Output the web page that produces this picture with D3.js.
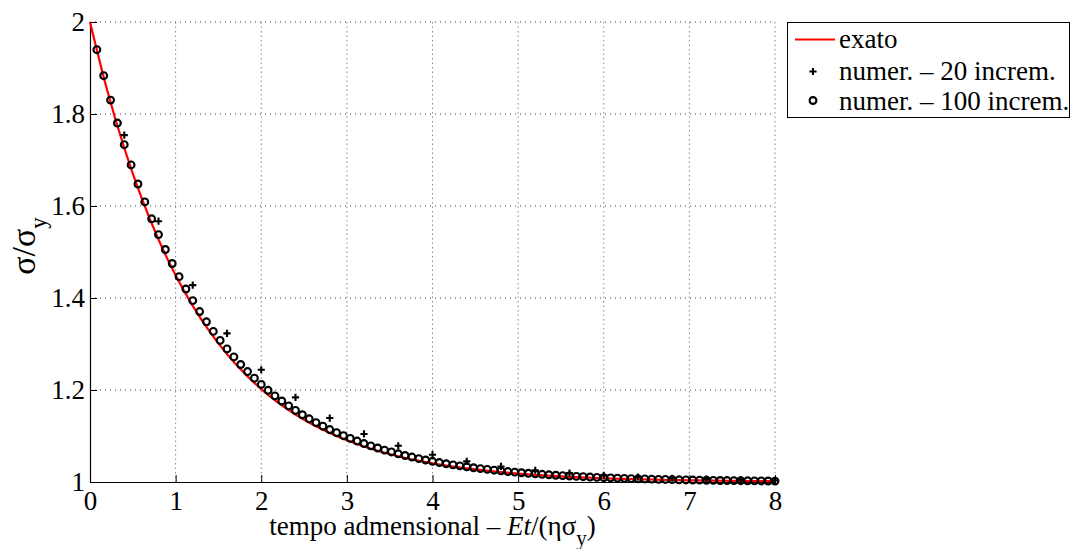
<!DOCTYPE html>
<html>
<head>
<meta charset="utf-8">
<script src="https://cdn.jsdelivr.net/npm/d3@7"></script>
<style>
  html, body { margin: 0; padding: 0; background: #fff; }
  svg { display: block; }
</style>
</head>
<body>
<svg id="chart" width="1072" height="549"></svg>
<script>
// ---- data ----
const xTicks = [0, 1, 2, 3, 4, 5, 6, 7, 8];
const xTickLabels = ["0", "1", "2", "3", "4", "5", "6", "7", "8"];
const yTicks = [1, 1.2, 1.4, 1.6, 1.8, 2];
const yTickLabels = ["1", "1.2", "1.4", "1.6", "1.8", "2"];

// exact solution
const exactT = [0, 0.2, 0.4, 0.6, 0.8, 1.0, 1.2, 1.4, 1.6, 1.8, 2.0, 2.2, 2.4, 2.6, 2.8, 3.0, 3.2, 3.4, 3.6, 3.8,
  4.0, 4.2, 4.4, 4.6, 4.8, 5.0, 5.2, 5.4, 5.6, 5.8, 6.0, 6.2, 6.4, 6.6, 6.8, 7.0, 7.2, 7.4, 7.6, 7.8, 8.0];
const exactY = [2.0000, 1.8521, 1.7261, 1.6188, 1.5273, 1.4493, 1.3829, 1.3263, 1.2780, 1.2369,
  1.2019, 1.1720, 1.1466, 1.1249, 1.1065, 1.0907, 1.0773, 1.0659, 1.0561, 1.0478,
  1.0408, 1.0347, 1.0296, 1.0252, 1.0215, 1.0183, 1.0156, 1.0133, 1.0113, 1.0097,
  1.0082, 1.0070, 1.0060, 1.0051, 1.0043, 1.0037, 1.0032, 1.0027, 1.0023, 1.0020, 1.0017];

// numerical, 20 increments
const inc20T = [0.4, 0.8, 1.2, 1.6, 2.0, 2.4, 2.8, 3.2, 3.6, 4.0, 4.4, 4.8, 5.2, 5.6, 6.0, 6.4, 6.8, 7.2, 7.6, 8.0];
const inc20Y = [1.754, 1.567, 1.428, 1.323, 1.244, 1.184, 1.139, 1.1045, 1.0788, 1.0594,
  1.0448, 1.0338, 1.0255, 1.0192, 1.0145, 1.0109, 1.0082, 1.0062, 1.0047, 1.0035];

// numerical, 100 increments
const inc100T = [0.08, 0.16, 0.24, 0.32, 0.40, 0.48, 0.56, 0.64, 0.72, 0.80,
  0.88, 0.96, 1.04, 1.12, 1.20, 1.28, 1.36, 1.44, 1.52, 1.60,
  1.68, 1.76, 1.84, 1.92, 2.00, 2.08, 2.16, 2.24, 2.32, 2.40,
  2.48, 2.56, 2.64, 2.72, 2.80, 2.88, 2.96, 3.04, 3.12, 3.20,
  3.28, 3.36, 3.44, 3.52, 3.60, 3.68, 3.76, 3.84, 3.92, 4.00,
  4.08, 4.16, 4.24, 4.32, 4.40, 4.48, 4.56, 4.64, 4.72, 4.80,
  4.88, 4.96, 5.04, 5.12, 5.20, 5.28, 5.36, 5.44, 5.52, 5.60,
  5.68, 5.76, 5.84, 5.92, 6.00, 6.08, 6.16, 6.24, 6.32, 6.40,
  6.48, 6.56, 6.64, 6.72, 6.80, 6.88, 6.96, 7.04, 7.12, 7.20,
  7.28, 7.36, 7.44, 7.52, 7.60, 7.68, 7.76, 7.84, 7.92, 8.00];
const inc100Y = [1.9398, 1.8833, 1.8302, 1.7803, 1.7333, 1.6892, 1.6478, 1.6088, 1.5722, 1.5378,
  1.5054, 1.4750, 1.4464, 1.4196, 1.3943, 1.3706, 1.3483, 1.3274, 1.3077, 1.2892,
  1.2718, 1.2554, 1.2401, 1.2256, 1.2121, 1.1993, 1.1873, 1.1761, 1.1655, 1.1555,
  1.1462, 1.1374, 1.1291, 1.1213, 1.1140, 1.1072, 1.1007, 1.0947, 1.0890, 1.0836,
  1.0786, 1.0739, 1.0694, 1.0653, 1.0613, 1.0576, 1.0542, 1.0509, 1.0478, 1.0450,
  1.0423, 1.0397, 1.0373, 1.0351, 1.0330, 1.0310, 1.0291, 1.0274, 1.0257, 1.0242,
  1.0227, 1.0214, 1.0201, 1.0189, 1.0177, 1.0167, 1.0157, 1.0147, 1.0138, 1.0130,
  1.0122, 1.0115, 1.0108, 1.0101, 1.0095, 1.0090, 1.0084, 1.0079, 1.0074, 1.0070,
  1.0066, 1.0062, 1.0058, 1.0055, 1.0051, 1.0048, 1.0045, 1.0043, 1.0040, 1.0038,
  1.0035, 1.0033, 1.0031, 1.0029, 1.0028, 1.0026, 1.0024, 1.0023, 1.0022, 1.0020];

const legendLabels = ["exato", "numer. \u2013 20 increm.", "numer. \u2013 100 increm."];

// ---- layout ----
const FONT = "'Liberation Serif'";
const svg = d3.select("#chart");
const L = 90, T = 22, R = 775, B = 482;
const x = d3.scaleLinear().domain([0, 8]).range([L, R]);
const y = d3.scaleLinear().domain([1, 2]).range([B, T]);
const tickFont = "27px";

// grid
const grid = svg.append("g");
grid.selectAll("line.v").data(xTicks.filter(d => d > 0)).join("line")
  .attr("x1", d => x(d)).attr("x2", d => x(d)).attr("y1", T).attr("y2", B)
  .attr("stroke", "#8a8a8a").attr("stroke-width", 1).attr("stroke-dasharray", "1.5,3");
grid.selectAll("line.h").data(yTicks.filter(d => d > 1)).join("line")
  .attr("x1", L).attr("x2", R).attr("y1", d => y(d)).attr("y2", d => y(d))
  .attr("stroke", "#444").attr("stroke-width", 1).attr("stroke-dasharray", "1,4");

// axes
const xAxis = d3.axisBottom(x).tickValues(xTicks).tickFormat((d, i) => xTickLabels[i])
  .tickSizeInner(-7).tickSizeOuter(0).tickPadding(9);
const gx = svg.append("g").attr("transform", `translate(0,${B})`).call(xAxis);
gx.select(".domain").attr("stroke", "#000").attr("stroke-width", 1.2);
gx.selectAll(".tick line").attr("stroke", "#000");
gx.selectAll(".tick text").style("font-family", FONT).style("font-size", tickFont).attr("fill", "#000");

const yAxis = d3.axisLeft(y).tickValues(yTicks).tickFormat((d, i) => yTickLabels[i])
  .tickSizeInner(-7).tickSizeOuter(0).tickPadding(5);
const gy = svg.append("g").attr("transform", `translate(${L},0)`).call(yAxis);
gy.select(".domain").attr("stroke", "#000").attr("stroke-width", 1.2);
gy.selectAll(".tick line").attr("stroke", "#000");
gy.selectAll(".tick text").style("font-family", FONT).style("font-size", tickFont).attr("fill", "#000");

// exact curve
const exactData = exactT.map((t, i) => [t, exactY[i]]);
const line = d3.line().x(d => x(d[0])).y(d => y(d[1])).curve(d3.curveMonotoneX);
svg.append("path").datum(exactData).attr("d", line)
  .attr("fill", "none").attr("stroke", "#ff0000").attr("stroke-width", 2.2);

// 100 increments: circles
const d100 = inc100T.map((t, i) => [t, inc100Y[i]]);
svg.append("g").selectAll("circle").data(d100).join("circle")
  .attr("cx", d => x(d[0])).attr("cy", d => y(d[1])).attr("r", 3.4)
  .attr("fill", "none").attr("stroke", "#000").attr("stroke-width", 2.1);

// 20 increments: plus
const d20 = inc20T.map((t, i) => [t, inc20Y[i]]);
const plus = (cx, cy, s) => `M${cx - s},${cy}H${cx + s}M${cx},${cy - s}V${cy + s}`;
svg.append("g").selectAll("path").data(d20).join("path")
  .attr("d", d => plus(x(d[0]), y(d[1]), 3.6))
  .attr("stroke", "#000").attr("stroke-width", 2.1).attr("fill", "none");

// axis labels
const xl = svg.append("text").attr("x", (L + R) / 2).attr("y", 535)
  .attr("text-anchor", "middle").style("font-family", FONT).style("font-size", "27px");
xl.append("tspan").text("tempo admensional \u2013 ");
xl.append("tspan").style("font-style", "italic").text("Et");
xl.append("tspan").text("/(\u03B7\u03C3");
xl.append("tspan").style("font-size", "21px").attr("dy", 10).text("y");
xl.append("tspan").attr("dy", -10).text(")");

const yl = svg.append("text").attr("transform", `translate(35,${(T + B) / 2 - 6}) rotate(-90)`)
  .attr("text-anchor", "middle").style("font-family", FONT).style("font-size", "34px");
yl.append("tspan").text("\u03C3/\u03C3");
yl.append("tspan").style("font-size", "23px").attr("dy", 11).text("y");

// legend
const lg = svg.append("g");
lg.append("rect").attr("x", 787.5).attr("y", 22.5).attr("width", 282).attr("height", 95)
  .attr("fill", "#fff").attr("stroke", "#000").attr("stroke-width", 1);
lg.append("line").attr("x1", 795).attr("x2", 835).attr("y1", 39.5).attr("y2", 39.5)
  .attr("stroke", "#ff0000").attr("stroke-width", 2.2);
lg.append("path").attr("d", plus(813, 71.5, 3.6)).attr("stroke", "#000").attr("stroke-width", 2.1);
lg.append("circle").attr("cx", 813).attr("cy", 100.5).attr("r", 3.4)
  .attr("fill", "none").attr("stroke", "#000").attr("stroke-width", 2.1);
const legY = [48, 80, 110];
lg.selectAll("text").data(legendLabels).join("text")
  .attr("x", 839).attr("y", (d, i) => legY[i])
  .style("font-family", FONT).style("font-size", "27px").attr("fill", "#000").text(d => d);
</script>
</body>
</html>
